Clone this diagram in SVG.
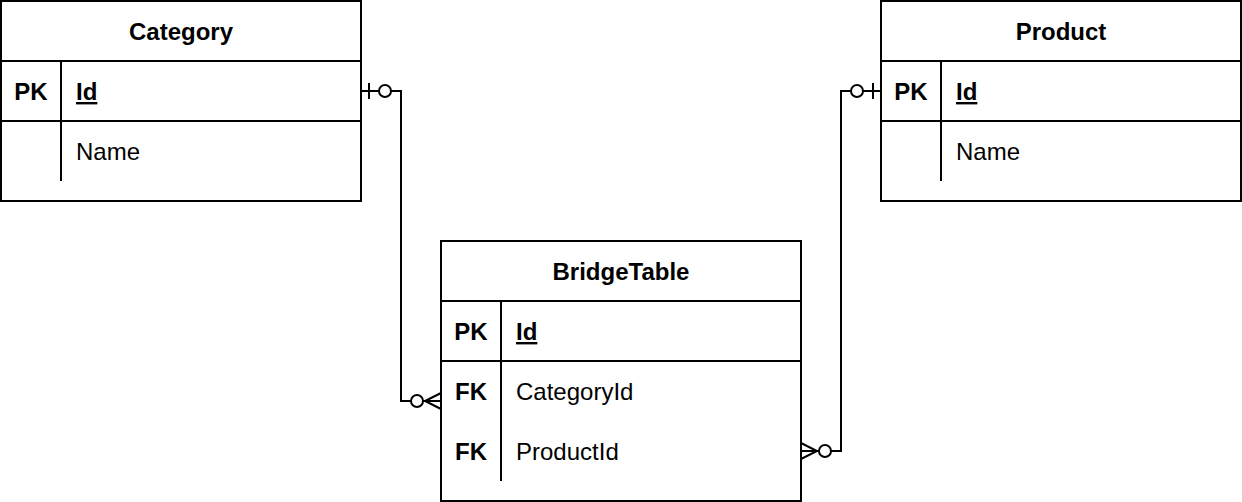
<svg xmlns="http://www.w3.org/2000/svg" width="1242" height="502" viewBox="0 0 1242 502">
<style>
.box{fill:#fff;stroke:#000;stroke-width:2}
.ln{fill:none;stroke:#000;stroke-width:2}
text{font-family:"Liberation Sans",Arial,sans-serif;font-size:24px;fill:#000}
.b{font-weight:bold}
.c{text-anchor:middle}
.u{text-decoration:underline}
.circ{fill:#fff;stroke:#000;stroke-width:2}
</style>
<rect width="1242" height="502" fill="#fff"/>
<g id="category">
<rect class="box" x="1" y="1" width="360" height="200"/>
<path class="ln" d="M1,61H361M1,121H361M61,61V181"/>
<text class="b c" x="181" y="40">Category</text>
<text class="b c" x="31" y="100">PK</text>
<text class="b u" x="76" y="100">Id</text>
<text x="76" y="160">Name</text>
</g>
<g id="product">
<rect class="box" x="881" y="1" width="360" height="200"/>
<path class="ln" d="M881,61H1241M881,121H1241M941,61V181"/>
<text class="b c" x="1061" y="40">Product</text>
<text class="b c" x="911" y="100">PK</text>
<text class="b u" x="956" y="100">Id</text>
<text x="956" y="160">Name</text>
</g>
<g id="bridgetable">
<rect class="box" x="441" y="241" width="360" height="260"/>
<path class="ln" d="M441,301H801M441,361H801M501,301V481"/>
<text class="b c" x="621" y="280">BridgeTable</text>
<text class="b c" x="471" y="340">PK</text>
<text class="b u" x="516" y="340">Id</text>
<text class="b c" x="471" y="400">FK</text>
<text x="516" y="400">CategoryId</text>
<text class="b c" x="471" y="460">FK</text>
<text x="516" y="460">ProductId</text>
</g>
<g id="connectors">
<path class="ln" d="M361,91H401V401H441"/>
<path class="ln" d="M369,83V99"/>
<circle class="circ" cx="385" cy="91" r="6"/>
<path class="ln" d="M441,393L425,401L441,409"/>
<circle class="circ" cx="417" cy="401" r="6"/>
<path class="ln" d="M881,91H841V451H801"/>
<path class="ln" d="M873,83V99"/>
<circle class="circ" cx="857" cy="91" r="6"/>
<path class="ln" d="M801,443L817,451L801,459"/>
<circle class="circ" cx="825" cy="451" r="6"/>
</g>
</svg>
